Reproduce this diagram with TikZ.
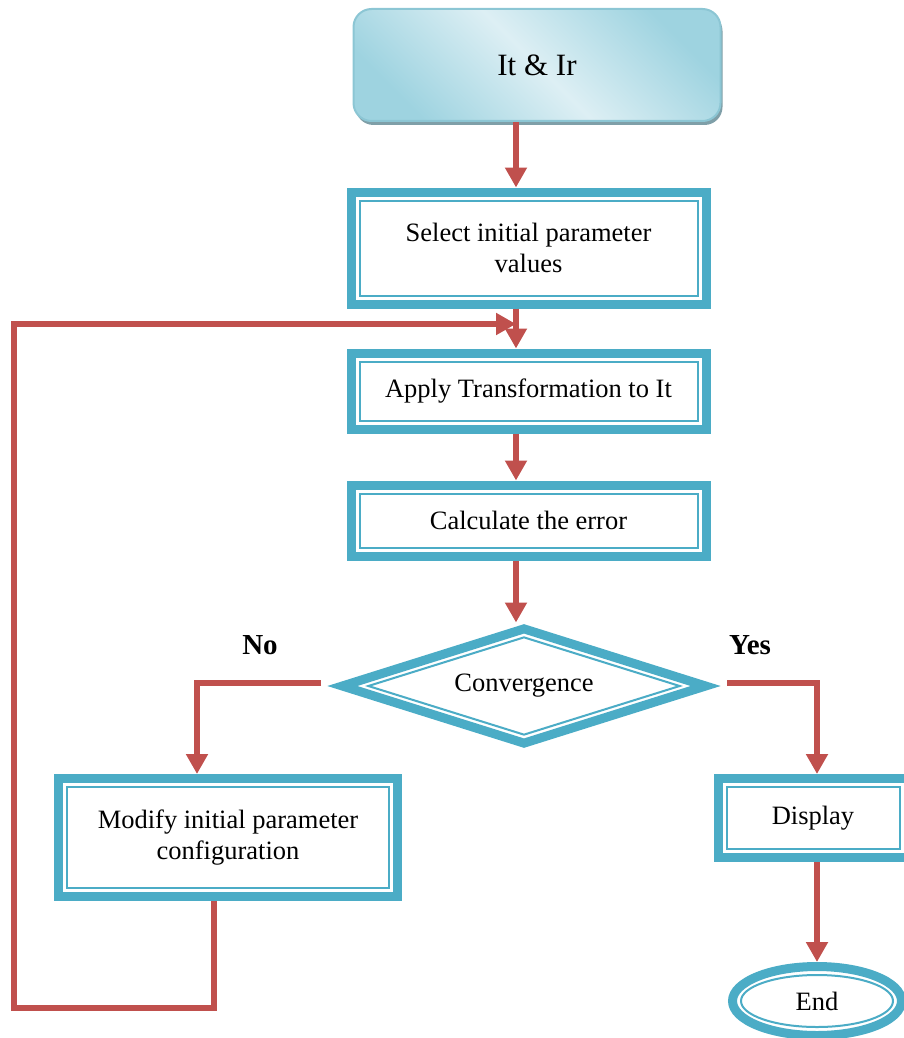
\documentclass[tikz,border=0pt]{standalone}
\usepackage{fontspec}
\setmainfont{Liberation Serif}
\usetikzlibrary{arrows.meta,positioning,shapes.geometric,shadows}
\definecolor{boxteal}{HTML}{4BACC6}
\definecolor{flowred}{HTML}{C0504D}
\definecolor{startblue}{HTML}{9ED3E0}
\definecolor{startlight}{HTML}{DDEFF4}
\definecolor{startedge}{HTML}{8CC6D4}
\definecolor{startshadow}{HTML}{7F9FA8}

\begin{document}
\begin{tikzpicture}[x=1pt,y=-1pt,
        >={Triangle[width=21pt,length=20pt]},
        font=\fontsize{26.5}{31}\selectfont,
        flow/.style={->,draw=flowred,line width=6pt},
        startbox/.style={rectangle,rounded corners=18pt,draw=startedge,line width=2pt,
            left color=startblue,right color=startblue,middle color=startlight,shading angle=135,
            drop shadow={shadow xshift=2pt,shadow yshift=-4pt,fill=startshadow,opacity=1},
            minimum width=367pt,minimum height=112pt,font=\fontsize{31}{36}\selectfont},
        procbox/.style={rectangle,draw=boxteal,line width=9pt,fill=white,align=center,
            path picture={\draw[boxteal,line width=2pt]
                ([shift={(8.5pt,8.5pt)}]path picture bounding box.south west) rectangle
                ([shift={(-8.5pt,-8.5pt)}]path picture bounding box.north east);}},
        decision/.style={diamond,draw=boxteal,line width=9pt,fill=white,inner sep=0pt,aspect=3.1,
            minimum width=367pt,minimum height=118pt,
            path picture={\draw[boxteal,line width=2pt]
                ([xshift=26pt]path picture bounding box.west) --
                ([yshift=-8.5pt]path picture bounding box.north) --
                ([xshift=-26pt]path picture bounding box.east) --
                ([yshift=8.5pt]path picture bounding box.south) -- cycle;}},
        stopnode/.style={ellipse,draw=boxteal,line width=9pt,fill=white,inner sep=0pt,
            minimum width=169pt,minimum height=69pt,
            path picture={\draw[boxteal,line width=2pt]
                (path picture bounding box.center) ellipse [x radius=76pt,y radius=26pt];}},
        answer/.style={font=\fontsize{29}{34}\selectfont\bfseries}]

    \useasboundingbox (0,0) rectangle (903,1038);

    \node [startbox]  (start)  at (537,65) {It \& Ir};
    \node [procbox,minimum width=355pt,minimum height=112pt] (select)
          [node distance=183pt,below of=start,xshift=-8.5pt] {Select initial parameter\\values};
    \node [procbox,minimum width=355pt,minimum height=76pt]  (apply)
          [node distance=143pt,below of=select] {Apply Transformation to It};
    \node [procbox,minimum width=355pt,minimum height=71pt]  (calc)
          [node distance=129.5pt,below of=apply] {Calculate the error};
    \node [decision]  (decide)
          [node distance=165.5pt,below of=calc,xshift=-4.5pt] {Convergence};
    \node [procbox,minimum width=339pt,minimum height=118pt] (modify)
          at (228,837.5) {Modify initial parameter\\configuration};
    \node [procbox,minimum width=190pt,minimum height=79pt]  (display)
          at (813,818) {Display};
    \node [stopnode]  (endnode) at (817,1001) {End};

    \node [answer] (no)  at (260,645) {No};
    \node [answer] (yes) at (750,645) {Yes};

    \coordinate (spine) at (516,0);
    \coordinate (merge) at (516,324);
    \coordinate (lowL)  at (14,1008);

    % main column
    \draw [flow] (start.south -| spine)  -- (select.north -| spine);
    \draw [flow] (select.south -| spine) -- (apply.north -| spine);
    \draw [flow] (apply.south -| spine)  -- (calc.north -| spine);
    \draw [flow] (calc.south -| spine)   -- (decide.north -| spine);

    % branches
    \draw [flow] ([shift={(-15pt,3pt)}]decide.west) -| ([xshift=-31pt]modify.north);
    \draw [flow] ([shift={(15pt,3pt)}]decide.east)  -| (display.north -| endnode);
    \draw [flow] (display.south -| endnode)  -- (endnode.north);

    % back to the transformation
    \draw [flow] ([xshift=-14pt]modify.south) |- (lowL) |- (merge);
\end{tikzpicture}
\end{document}
